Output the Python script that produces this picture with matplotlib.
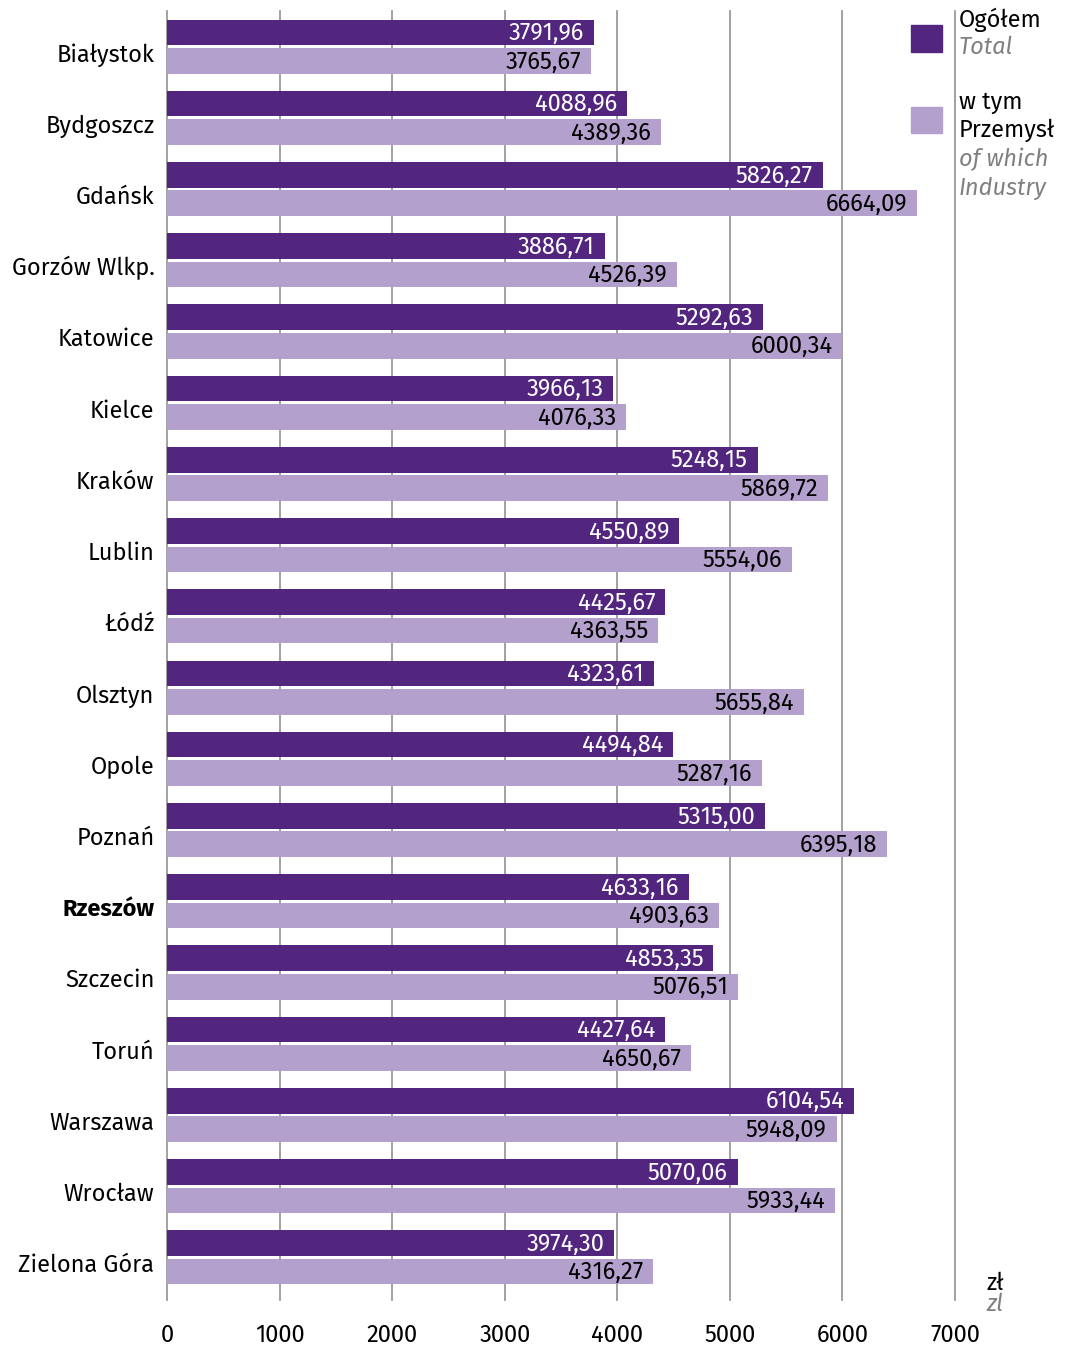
import matplotlib.pyplot as plt

plt.rcParams['font.family'] = ['Fira Sans', 'Noto Sans', 'DejaVu Sans']

cities = ["Białystok", "Bydgoszcz", "Gdańsk", "Gorzów Wlkp.", "Katowice", "Kielce",
          "Kraków", "Lublin", "Łódź", "Olsztyn", "Opole", "Poznań", "Rzeszów",
          "Szczecin", "Toruń", "Warszawa", "Wrocław", "Zielona Góra"]
total = [3791.96, 4088.96, 5826.27, 3886.71, 5292.63, 3966.13, 5248.15, 4550.89,
         4425.67, 4323.61, 4494.84, 5315.00, 4633.16, 4853.35, 4427.64, 6104.54,
         5070.06, 3974.30]
industry = [3765.67, 4389.36, 6664.09, 4526.39, 6000.34, 4076.33, 5869.72, 5554.06,
            4363.55, 5655.84, 5287.16, 6395.18, 4903.63, 5076.51, 4650.67, 5948.09,
            5933.44, 4316.27]
xticks = [0, 1000, 2000, 3000, 4000, 5000, 6000, 7000]

dark = "#52267f"
light = "#b3a0cd"
grid_col = "#9a9a9a"
fs = 17


def fmt(v):
    return f"{v:.2f}".replace(".", ",")


fig = plt.figure(figsize=(10.68, 13.46), dpi=100)
ax = fig.add_axes([167 / 1068, 1 - 1293 / 1346, (955 - 167) / 1068, (1293 - 11) / 1346])

pos = list(range(len(cities)))
h = 0.36
ax.barh([p - 0.2 for p in pos], total, height=h, color=dark, zorder=3)
ax.barh([p + 0.2 for p in pos], industry, height=h, color=light, zorder=3)

for p, v in zip(pos, total):
    ax.annotate(fmt(v), (v, p - 0.2), xytext=(-10, -1), textcoords="offset pixels",
                ha="right", va="center", color="white", fontsize=fs, zorder=4)
for p, v in zip(pos, industry):
    ax.annotate(fmt(v), (v, p + 0.2), xytext=(-10, -1), textcoords="offset pixels",
                ha="right", va="center", color="black", fontsize=fs, zorder=4)

ax.set_xlim(0, 7000)
ax.set_ylim(len(cities) - 0.5, -0.5)
ax.set_xticks(xticks)
ax.set_xticklabels([str(t) for t in xticks], fontsize=fs)
# city labels sit slightly below the centre of each bar pair
ax.set_yticks([p + 0.08 for p in pos])
ax.set_yticklabels(cities, fontsize=fs)
for lbl in ax.get_yticklabels():
    if lbl.get_text() == "Rzeszów":
        lbl.set_fontweight("bold")
ax.tick_params(axis="y", length=0, pad=9)
ax.tick_params(axis="x", length=0, pad=22)
for s in ax.spines.values():
    s.set_visible(False)
for t in xticks:
    ax.plot([t, t], [-0.5, len(cities) - 0.4], color=grid_col, lw=1.3,
            clip_on=False, zorder=1)

# legend
fig.patches.append(plt.Rectangle((911 / 1068, 1 - 52 / 1346), 31 / 1068, 27 / 1346,
                                 transform=fig.transFigure, color=dark))
fig.patches.append(plt.Rectangle((911 / 1068, 1 - 133 / 1346), 31 / 1068, 26 / 1346,
                                 transform=fig.transFigure, color=light))
lx = 959 / 1068
fig.text(lx, 1 - 20 / 1346, "Ogółem", fontsize=fs, va="center")
fig.text(lx, 1 - 47 / 1346, "Total", fontsize=fs, va="center", style="italic", color="#808080")
fig.text(lx, 1 - 102 / 1346, "w tym", fontsize=fs, va="center")
fig.text(lx, 1 - 130 / 1346, "Przemysł", fontsize=fs, va="center")
fig.text(lx, 1 - 159 / 1346, "of which", fontsize=fs, va="center", style="italic", color="#808080")
fig.text(lx, 1 - 188 / 1346, "Industry", fontsize=fs, va="center", style="italic", color="#808080")

fig.text(986 / 1068, 1 - 1283 / 1346, "zł", fontsize=fs, va="center")
fig.text(986 / 1068, 1 - 1304 / 1346, "zl", fontsize=fs, va="center", style="italic", color="#808080")

fig.savefig("out.png", dpi=100)
